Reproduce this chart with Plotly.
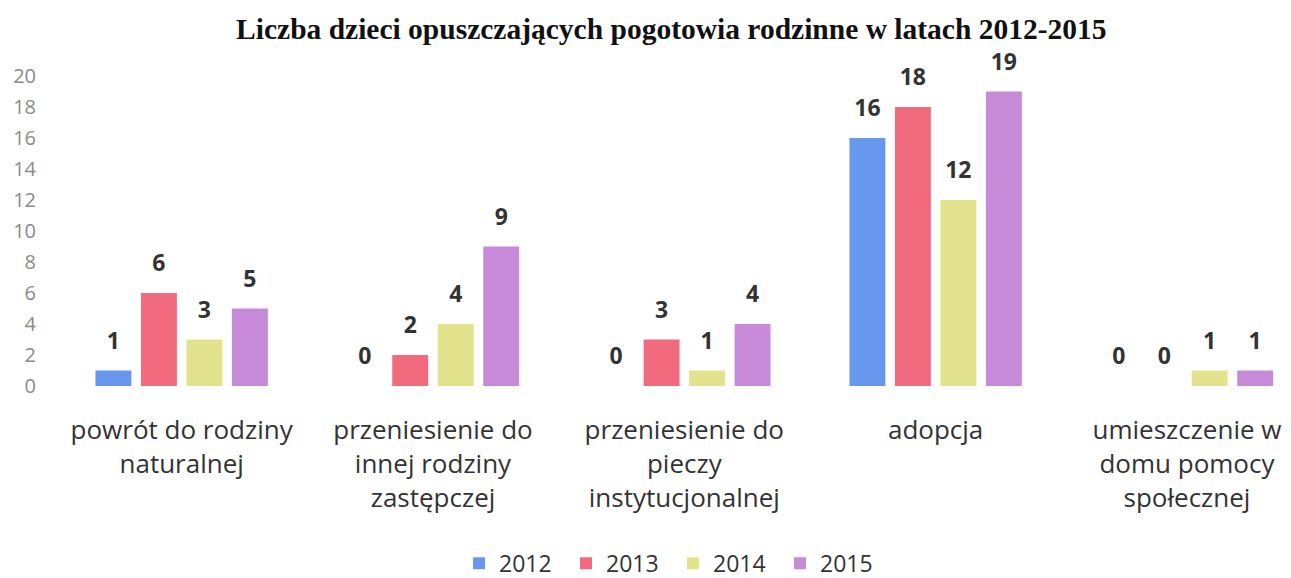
import plotly.graph_objects as go

categories = [
    "powrót do rodziny<br>naturalnej",
    "przeniesienie do<br>innej rodziny<br>zastępczej",
    "przeniesienie do<br>pieczy<br>instytucjonalnej",
    "adopcja",
    "umieszczenie w<br>domu pomocy<br>społecznej",
]
years = ["2012", "2013", "2014", "2015"]
v2012 = [1, 0, 0, 16, 0]
v2013 = [6, 2, 3, 18, 0]
v2014 = [3, 4, 1, 12, 1]
v2015 = [5, 9, 4, 19, 1]
series = [v2012, v2013, v2014, v2015]
colors = ["#6898ee", "#f26a7e", "#e2e38c", "#c68ad8"]

fig = go.Figure()
for yr, vals, col in zip(years, series, colors):
    fig.add_trace(go.Bar(
        x=categories, y=vals, name=yr, marker_color=col,
        offsetgroup=yr, alignmentgroup="a",
    ))
for yr, vals in zip(years, series):
    fig.add_trace(go.Scatter(
        x=categories, y=vals, mode="markers+text", text=[str(v) for v in vals],
        textposition="top center", offsetgroup=yr, alignmentgroup="a",
        marker=dict(size=24, opacity=0), showlegend=False, hoverinfo="skip",
        textfont=dict(family="Open Sans", size=23, color="#333333", weight="bold"),
        cliponaxis=False,
    ))

fig.update_layout(
    template="none",
    width=1283, height=570,
    margin=dict(l=48, r=1, t=68, b=192, autoexpand=False),
    plot_bgcolor="white", paper_bgcolor="white",
    barmode="group", bargap=0.276, bargroupgap=0.21,
    scattermode="group", scattergap=0.276,
    title=dict(text="<b>Liczba dzieci opuszczających pogotowia rodzinne w latach 2012-2015</b>",
               x=0.517, xanchor="center", y=0.963, yanchor="middle",
               font=dict(family="Liberation Serif", size=29.5, color="#111111")),
    legend=dict(orientation="h", x=0.5, xanchor="center", y=-0.572, yanchor="middle",
                font=dict(family="Open Sans", size=23, color="#333333"),
                entrywidth=62, entrywidthmode="pixels",
                itemsizing="constant", traceorder="normal"),
    font=dict(family="Open Sans"),
    showlegend=True,
)
fig.update_xaxes(range=[-0.5, 4.41], showline=False, showgrid=False, zeroline=False,
                 automargin=False, ticklabelstandoff=26,
                 tickfont=dict(family="Open Sans", size=26, color="#333333"), ticks="")
fig.update_yaxes(range=[0, 20], dtick=2, showline=False, showgrid=False, zeroline=False,
                 automargin=False, ticks="",
                 tickfont=dict(family="Open Sans", size=20, color="#8a8a8a"),
                 ticklabelstandoff=19)

fig.write_html("out.html")
